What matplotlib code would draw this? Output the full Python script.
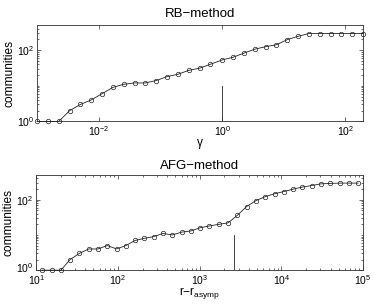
import numpy as np
import matplotlib
matplotlib.use('Agg')
import matplotlib.pyplot as plt
import matplotlib.transforms as mtransforms
from matplotlib.ticker import LogLocator, NullLocator, FixedLocator, NullFormatter

plt.rcParams['font.family'] = ['Liberation Sans', 'DejaVu Sans']
plt.rcParams['mathtext.default'] = 'regular'

# RB-method: gamma grid and number of communities
rb_gamma = [0.000977, 0.001465, 0.002197, 0.003295, 0.004943, 0.007414, 0.01112,
            0.01668, 0.02502, 0.03753, 0.05630, 0.08445, 0.1267, 0.1900, 0.2850,
            0.4275, 0.6413, 1.0, 1.5, 2.25, 3.375, 5.063, 7.594, 11.39, 17.09,
            25.63, 38.44, 57.67, 86.50, 129.7, 194.6]
rb_comm = [1, 1, 1, 2, 3, 4, 6, 9, 11, 12, 12, 14, 18, 21, 27, 31, 40, 53, 63,
           82, 106, 124, 141, 196, 243, 290, 290, 290, 290, 290, 290]
rb_mark = 1.0

# AFG-method: r - r_asymp grid and number of communities
afg_r = [11.8, 15.4, 20.0, 25.9, 33.7, 43.8, 56.9, 73.9, 96.1, 124.9, 162.2,
         210.7, 273.8, 355.8, 462.2, 600.5, 780.2, 1014, 1317, 1711, 2223,
         2888, 3753, 4876, 6336, 8231, 10695, 13898, 18058, 23462, 30480,
         39600, 51440, 66850, 86850]
afg_comm = [1, 1, 1, 2, 3, 4, 4, 5, 4, 5, 7, 8, 9, 11, 10, 12, 13, 16, 18, 20,
            22, 36, 64, 94, 122, 147, 170, 199, 228, 252, 281, 290, 295, 295, 295]
afg_mark = 2650

fig = plt.figure(figsize=(3.74, 3.06), dpi=100)
ax1 = fig.add_axes([0.099, 0.603, 0.872, 0.315])
ax2 = fig.add_axes([0.097, 0.117, 0.874, 0.311])

spine_col = '#303030'

def style(ax):
    for s in ax.spines.values():
        s.set_color(spine_col)
        s.set_linewidth(0.6)
    ax.tick_params(which='both', direction='in', top=True, right=True,
                   color=spine_col, width=0.5, labelsize=7.5, pad=2)
    ax.tick_params(which='major', length=3)
    ax.tick_params(which='minor', length=1.6)
    ax.set_ylim(1, 500)
    ax.yaxis.set_major_locator(FixedLocator([1, 100]))
    ax.yaxis.set_minor_locator(FixedLocator([2, 3, 4, 5, 6, 7, 8, 9, 10,
                                             20, 30, 40, 50, 60, 70, 80, 90,
                                             200, 300, 400]))
    ax.yaxis.set_minor_formatter(NullFormatter())
    ax.xaxis.set_minor_formatter(NullFormatter())
    ax.set_ylabel('communities', fontsize=8.6, labelpad=1)

# top panel
ax1.set_xscale('log')
ax1.set_yscale('log')
ax1.plot(rb_gamma, rb_comm, color='#222222', lw=0.6, marker='o', ms=3.2,
         mfc='none', mec='#222222', mew=0.5, clip_on=False, zorder=3)
ax1.plot([rb_mark, rb_mark], [1, 10], color='#222222', lw=0.6)
ax1.set_xlim(rb_gamma[0], rb_gamma[-1])
style(ax1)
ax1.xaxis.set_major_locator(FixedLocator([1e-2, 1, 1e2]))
ax1.xaxis.set_minor_locator(NullLocator())
ax1.set_title('RB\u2212method', fontsize=9.5, pad=6)
ax1.set_xlabel('\u03b3', fontsize=8.6, labelpad=-1)

# bottom panel
ax2.set_xscale('log')
ax2.set_yscale('log')
ax2.plot(afg_r, afg_comm, color='#222222', lw=0.6, marker='o', ms=3.2,
         mfc='none', mec='#222222', mew=0.5, clip_on=False, zorder=3)
ax2.plot([afg_mark, afg_mark], [1, 10], color='#222222', lw=0.6)
ax2.set_xlim(10, 1e5)
style(ax2)
ax2.xaxis.set_major_locator(LogLocator(base=10, numticks=10))
ax2.xaxis.set_minor_locator(LogLocator(base=10, subs=np.arange(2, 10), numticks=20))
ax2.set_title('AFG\u2212method', fontsize=9.5, pad=4)
ax2.set_xlabel(r'r$-$r$_{asymp}$', fontsize=8.6, labelpad=-1)

# nudge the bottom-left y label up a little so it clears the 10^1 label
fig.canvas.draw()
shift = mtransforms.ScaledTranslation(0, 2.5 / 72, fig.dpi_scale_trans)
lab = ax2.get_yticklabels()[0]
lab.set_transform(lab.get_transform() + shift)

fig.savefig('out.png', dpi=100)
